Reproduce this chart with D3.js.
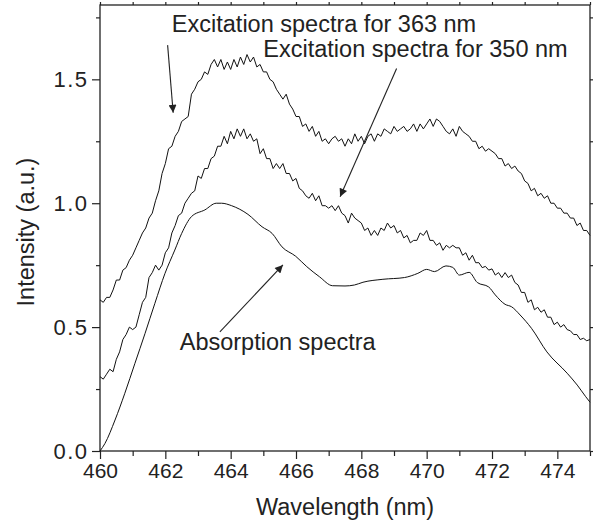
<!DOCTYPE html>
<html>
<head lang="en">
    <meta charset="UTF-8">
    <title></title>
    <script src="https://cdn.jsdelivr.net/npm/d3@7/dist/d3.min.js"></script>
    <style>
        body{margin:0;background:#fff;}
        text{font-family:"Liberation Sans",Arial,sans-serif;fill:#222;}
    </style>
</head>
<body>
</body>
</html>
<script>
    // sampling grid of the two excitation spectra (nm)
    var wlStart=460, wlStep=0.1;
    var excitation363=[
        .61,.60,.62,.62,.65,.69,.69,.73,.74,.77,
        .79,.82,.85,.88,.90,.94,.96,1.01,1.05,1.12,
        1.16,1.22,1.23,1.27,1.29,1.33,1.34,1.35,1.44,1.46,
        1.49,1.50,1.53,1.52,1.56,1.58,1.55,1.58,1.54,1.57,
        1.54,1.58,1.55,1.59,1.56,1.60,1.57,1.59,1.55,1.56,
        1.53,1.53,1.50,1.49,1.46,1.44,1.42,1.44,1.40,1.38,
        1.35,1.35,1.31,1.32,1.29,1.31,1.27,1.29,1.25,1.26,
        1.24,1.26,1.27,1.25,1.26,1.23,1.26,1.24,1.28,1.25,
        1.27,1.24,1.27,1.28,1.25,1.28,1.27,1.30,1.29,1.28,
        1.31,1.29,1.30,1.31,1.29,1.30,1.32,1.29,1.32,1.30,
        1.32,1.34,1.31,1.34,1.33,1.31,1.29,1.28,1.30,1.27,
        1.31,1.29,1.28,1.27,1.25,1.25,1.22,1.23,1.21,1.22,
        1.21,1.20,1.18,1.18,1.15,1.16,1.14,1.15,1.13,1.12,
        1.09,1.08,1.05,1.06,1.03,1.04,1.02,1.03,1.00,1.00,
        .98,.98,.96,.96,.94,.94,.91,.92,.89,.89,
        .87
    ];
    var excitation350=[
        .30,.29,.31,.33,.32,.37,.40,.45,.47,.50,
        .49,.50,.55,.60,.62,.70,.72,.75,.73,.75,
        .80,.82,.88,.91,.95,.96,1.00,1.02,1.04,1.05,
        1.11,1.10,1.14,1.14,1.18,1.19,1.23,1.23,1.27,1.24,
        1.29,1.26,1.30,1.27,1.30,1.26,1.28,1.25,1.26,1.20,
        1.22,1.18,1.18,1.14,1.16,1.14,1.16,1.12,1.12,1.09,
        1.10,1.06,1.05,1.03,1.02,1.04,1.01,1.03,.99,.99,
        .98,.99,.97,.99,.96,.95,.92,.96,.94,.93,
        .92,.89,.90,.87,.89,.87,.90,.89,.92,.90,
        .91,.88,.89,.86,.87,.84,.85,.85,.88,.87,
        .89,.85,.85,.83,.84,.81,.83,.82,.83,.82,
        .82,.79,.80,.77,.79,.76,.76,.74,.745,.73,
        .735,.71,.72,.70,.72,.70,.71,.68,.67,.64,
        .64,.60,.61,.57,.58,.56,.57,.54,.54,.51,
        .52,.50,.51,.49,.485,.47,.47,.45,.455,.445,
        .45
    ];
    var absorptionWl=[460.0,460.15,460.46,460.76,461.07,461.38,461.68,461.99,462.29,462.5,462.8,463.21,463.56,463.72,
        464.03,464.53,464.96,465.27,465.57,465.99,466.33,466.72,467.12,467.5,467.79,468.05,468.66,469.32,469.73,
        470.0,470.24,470.59,470.8,471.0,471.3,471.55,471.9,472.1,472.4,472.6,472.86,473.21,473.68,474.3,474.61,474.87,475.0];
    var absorption=[0,.03,.125,.233,.354,.475,.596,.717,.811,.878,.946,.973,1.0,1.0,
        .99,.955,.905,.878,.824,.786,.744,.703,.667,.666,.67,.681,.693,.70,.717,
        .733,.724,.747,.741,.71,.721,.68,.662,.63,.592,.582,.549,.495,.40,.314,.266,.219,.197];

    var xTicks=[460,462,464,466,468,470,472,474];
    var xMinor=[461,463,465,467,469,471,473,475];
    var yTicks=[0,0.5,1.0,1.5];
    var yMinor=[0.25,0.75,1.25,1.75];

    // annotations: [label, x, y (data)], arrows: [from, to]
    var labels=[
        ["Excitation spectra for 363 nm",462.2,1.69],
        ["Excitation spectra for 350 nm",465.0,1.59],
        ["Absorption spectra",462.44,0.407]
    ];
    var arrows=[
        [[462.07,1.638],[462.24,1.365]],
        [[469.08,1.544],[467.35,1.026]],
        [[463.67,0.481],[465.60,0.751]]
    ];

    var margin={left:100,top:5},w=490,h=446;
    var _x=d3.scaleLinear().domain([460,475]).range([0,w]);
    var _y=d3.scaleLinear().domain([0,1.8]).range([h,0]);

    var _svg=d3.select('body')
            .append('svg')
            .attr('width',595)
            .attr('height',525);
    var _defs=_svg.append('defs');
    _defs.append('marker')
            .attr('id','head')
            .attr('viewBox','0 0 10 10')
            .attr('refX',10).attr('refY',5)
            .attr('markerUnits','userSpaceOnUse')
            .attr('markerWidth',11).attr('markerHeight',8)
            .attr('orient','auto')
            .append('path')
            .attr('d','M0,0L10,5L0,10Z')
            .attr('fill','#222');

    var _g=_svg.append('g')
            .attr('transform','translate('+margin.left+','+margin.top+')');

    function styleAxis(sel){
        sel.attr('font-family',null).attr('font-size',null);
        sel.select('.domain').remove();
        sel.selectAll('line').attr('stroke','#222').attr('stroke-width',1.2);
        sel.selectAll('text').attr('font-size',21).attr('fill','#222');
    }

    // bottom axis
    _g.append('g').attr('transform','translate(0,'+h+')')
            .call(d3.axisBottom(_x).tickValues(xTicks).tickSize(8).tickPadding(4).tickFormat(d3.format('d')))
            .call(styleAxis);
    _g.append('g').attr('transform','translate(0,'+h+')')
            .call(d3.axisBottom(_x).tickValues(xMinor).tickSize(5).tickFormat(''))
            .call(styleAxis);
    // left axis
    var _ly=_g.append('g')
            .call(d3.axisLeft(_y).tickValues(yTicks).tickSize(8).tickPadding(5).tickFormat(d3.format('.1f')))
            .call(styleAxis);
    _ly.selectAll('text').attr('font-size',22).attr('letter-spacing',1.5).attr('dx',1.5);
    _g.append('g')
            .call(d3.axisLeft(_y).tickValues(yMinor).tickSize(4).tickFormat(''))
            .call(styleAxis);
    // mirror ticks top / right
    _g.append('g')
            .call(d3.axisTop(_x).tickValues(xTicks.concat(xMinor)).tickSize(3).tickFormat(''))
            .call(styleAxis);
    _g.append('g').attr('transform','translate('+w+',0)')
            .call(d3.axisRight(_y).tickValues(yTicks.concat(yMinor)).tickSize(3).tickFormat(''))
            .call(styleAxis);

    // frame
    _g.append('rect')
            .attr('width',w).attr('height',h)
            .attr('fill','none').attr('stroke','#222').attr('stroke-width',1.3);

    // curves
    var _line=d3.line()
            .x(function(d){return _x(d[0]);})
            .y(function(d){return _y(d[1]);});
    function gridSeries(vals){
        return vals.map(function(v,i){return [wlStart+i*wlStep,v];});
    }
    var series=[gridSeries(excitation363),gridSeries(excitation350)];
    _g.selectAll('.spec')
            .data(series)
            .enter()
            .append('path')
            .attr('class','spec')
            .attr('d',_line)
            .attr('fill','none')
            .attr('stroke','#111')
            .attr('stroke-width',1);
    _g.append('path')
            .datum(absorptionWl.map(function(d,i){return [d,absorption[i]];}))
            .attr('d',_line.curve(d3.curveMonotoneX))
            .attr('fill','none')
            .attr('stroke','#111')
            .attr('stroke-width',1);

    // arrows
    _g.selectAll('.arrow')
            .data(arrows)
            .enter()
            .append('line')
            .attr('class','arrow')
            .attr('x1',function(d){return _x(d[0][0]);})
            .attr('y1',function(d){return _y(d[0][1]);})
            .attr('x2',function(d){return _x(d[1][0]);})
            .attr('y2',function(d){return _y(d[1][1]);})
            .attr('stroke','#222')
            .attr('stroke-width',1.1)
            .attr('marker-end','url(#head)');

    // labels
    _g.selectAll('.lbl')
            .data(labels)
            .enter()
            .append('text')
            .attr('class','lbl')
            .attr('x',function(d){return _x(d[1]);})
            .attr('y',function(d){return _y(d[2]);})
            .attr('font-size',23.5)
            .text(function(d){return d[0];});

    // axis titles
    _svg.append('text')
            .attr('x',margin.left+w/2)
            .attr('y',515)
            .attr('text-anchor','middle')
            .attr('font-size',23.5)
            .text('Wavelength (nm)');
    _svg.append('text')
            .attr('transform','translate(34,232) rotate(-90)')
            .attr('text-anchor','middle')
            .attr('font-size',23.5)
            .text('Intensity (a.u.)');
</script>
